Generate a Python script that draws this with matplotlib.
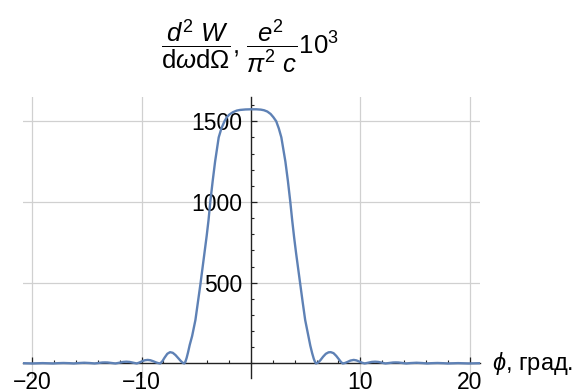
import matplotlib
matplotlib.use("Agg")
import matplotlib.pyplot as plt
from matplotlib.ticker import MultipleLocator

plt.rcParams['font.family'] = ['Liberation Sans', 'DejaVu Sans']
plt.rcParams['mathtext.fontset'] = 'custom'
plt.rcParams['mathtext.rm'] = 'Liberation Sans'
plt.rcParams['mathtext.it'] = 'Liberation Sans:italic'
plt.rcParams['mathtext.bf'] = 'Liberation Sans:bold'
plt.rcParams['axes.unicode_minus'] = True

# Angular distribution: angle (degrees) and spectral-angular density (x 10^3)
phi_deg = [
    -20.85, -20.4, -20.0,
    -19.6, -19.05, -18.5, -18.1,
    -17.7, -17.15, -16.6, -16.2,
    -15.8, -15.25, -14.7, -14.3,
    -13.9, -13.6, -13.35, -13.1, -12.8, -12.4,
    -12.0, -11.7, -11.4, -11.1, -10.8, -10.45,
    -10.2, -9.95, -9.7, -9.45, -9.2, -8.95, -8.7, -8.5, -8.3,
    -8.1, -7.9, -7.65, -7.4, -7.15, -6.9, -6.65, -6.4, -6.25, -6.1,
    -6.0, -5.88, -5.75, -5.6, -5.38, -5.08, -4.85, -4.62, -4.45, -4.25,
    -4.05, -3.88, -3.72, -3.5, -3.28, -3.1, -2.95, -2.7, -2.42, -2.2,
    -2.0, -1.65, -1.3, -1.0, -0.5, 0.0, 0.5, 0.9, 1.2, 1.5,
    1.8, 2.05, 2.31, 2.55, 2.78, 2.95, 3.15, 3.38, 3.6, 3.77,
    3.95, 4.13, 4.32, 4.5, 4.73, 4.96, 5.26, 5.43, 5.6, 5.75, 5.87, 5.95,
    6.15, 6.35, 6.6, 6.85, 7.1, 7.3, 7.55, 7.8, 8.05, 8.25, 8.4,
    8.6, 8.85, 9.1, 9.4, 9.65, 9.9, 10.15, 10.4,
    10.75, 11.05, 11.35, 11.65, 11.95, 12.3,
    12.7, 13.0, 13.25, 13.5, 13.8, 14.2,
    14.6, 15.15, 15.7, 16.1,
    16.5, 17.05, 17.6, 18.0,
    18.4, 18.95, 19.5, 19.9,
    20.4, 20.95,
]
intensity = [
    1.6, 0.7, 0.0,
    1.2, 2.2, 1.2, 0.0,
    1.7, 3.0, 1.7, 0.0,
    2.5, 4.5, 2.5, 0.0,
    3.5, 6.0, 6.5, 6.0, 3.5, 0.0,
    5.0, 9.5, 11.0, 9.5, 5.0, 0.0,
    6, 14, 20, 22, 20, 14, 7, 2.5, 0,
    14, 36, 60, 70, 66, 52, 33, 14, 5, 0,
    10, 35, 70, 115, 170, 269, 380, 492, 580, 682,
    790, 888, 1000, 1130, 1250, 1330, 1400, 1456, 1500, 1525,
    1540, 1556, 1566, 1570, 1573, 1574, 1574, 1572, 1568, 1560,
    1545, 1525, 1500, 1455, 1400, 1330, 1250, 1130, 1000, 888,
    780, 682, 585, 492, 380, 269, 166, 110, 63, 28, 8, 0,
    6, 20, 42, 60, 69, 70, 64, 47, 25, 8, 0,
    3, 10, 18, 22, 19, 12, 5, 0,
    5.0, 9.5, 11.0, 9.5, 5.0, 0.0,
    3.5, 6.0, 6.5, 6.0, 3.5, 0.0,
    2.5, 4.5, 2.5, 0.0,
    1.7, 3.0, 1.7, 0.0,
    1.2, 2.2, 1.2, 0.0,
    0.8, 1.6,
]

x_ticks = [-20, -10, 10, 20]
x_tick_labels = ['\u221220', '\u221210', '10', '20']
y_ticks = [500, 1000, 1500]
y_tick_labels = ['500', '1000', '1500']

W, H = 579, 392
fig = plt.figure(figsize=(W / 100, H / 100), dpi=100)
ax = fig.add_axes([23 / W, 1 - 378 / H, 457 / W, (378 - 96.7) / H])
ax.set_xlim(-20.85, 20.95)
ax.set_ylim(-90, 1652)

line_color = (0.368417, 0.506779, 0.709798)
ax.plot(phi_deg, intensity, color=line_color, lw=1.7, zorder=3,
        solid_joinstyle='round', solid_capstyle='round')

# axes through the origin
for side in ('top', 'right'):
    ax.spines[side].set_visible(False)
ax.spines['left'].set_position(('data', 0))
ax.spines['bottom'].set_position(('data', 0))
for side in ('left', 'bottom'):
    ax.spines[side].set_linewidth(1.0)
    ax.spines[side].set_color('#222222')
    ax.spines[side].set_zorder(2.5)

ax.set_xticks(x_ticks, x_tick_labels)
ax.set_yticks(y_ticks, y_tick_labels)
ax.xaxis.set_minor_locator(MultipleLocator(2))
ax.yaxis.set_minor_locator(MultipleLocator(100))

ax.tick_params(axis='both', which='major', direction='in', length=4.0,
               width=0.9, color='#222222', labelsize=16.5)
ax.tick_params(axis='both', which='minor', direction='in', length=2.2,
               width=0.8, color='#222222')
ax.tick_params(axis='x', which='major', pad=5.5)
ax.tick_params(axis='y', which='major', pad=6.0)

ax.grid(True, which='major', color='#d0d0d0', lw=0.9, zorder=0)
ax.set_axisbelow(True)

fig.text(250 / W, 1 - 53.3 / H,
         r"$\dfrac{d^2\ W}{\mathrm{d}\omega\mathrm{d}\Omega}$, "
         r"$\dfrac{e^2}{\pi^2\ c}10^3$",
         ha='center', va='baseline', fontsize=18.5)
fig.text(492 / W, 1 - 363.5 / H, r"$\phi$, град.",
         ha='left', va='center', fontsize=17)

fig.savefig("out.png", dpi=100)
